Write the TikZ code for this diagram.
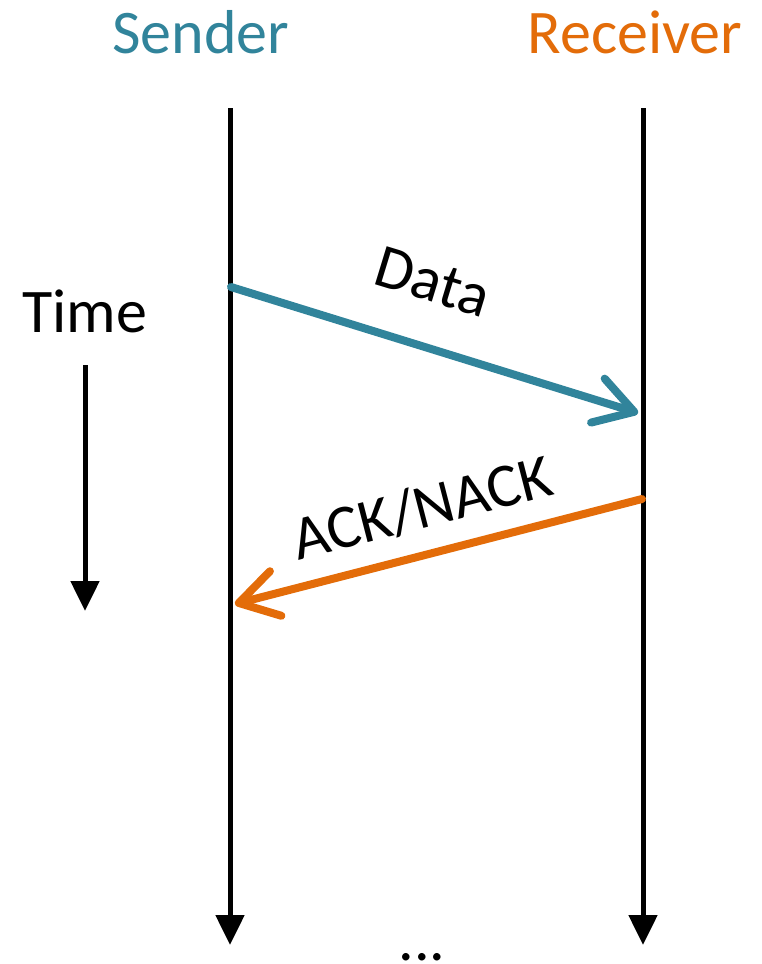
\documentclass[tikz,border=0pt]{standalone}
\usepackage{fontspec}
\setmainfont{Carlito}
\usetikzlibrary{arrows.meta}

\definecolor{sendcol}{HTML}{31849B}
\definecolor{recvcol}{HTML}{E36C09}

\tikzset{
  lifeline/.style={line width=5pt, -{Triangle[length=30pt,width=28pt]}},
  msg/.style={line width=8pt, line cap=round, line join=round,
    -{Straight Barb[length=38pt,width=46pt,line cap=round,line join=round]}},
  lbl/.style={font=\fontsize{62}{70}\selectfont, inner sep=0pt}
}

\begin{document}
\begin{tikzpicture}[x=1pt,y=-1pt]

  \useasboundingbox (0,0) rectangle (762,964);

  % participants
  \node[lbl, text=sendcol, anchor=base] (sender) at (201,53) {Sender};
  \node[lbl, text=recvcol, anchor=base] (receiver) at (635,53) {Receiver};

  \coordinate (s top) at (230,108);
  \coordinate (s end) at (230,945);
  \coordinate (r top) at (643,108);
  \coordinate (r end) at (643,945);

  \draw[lifeline] (s top) -- (s end);
  \draw[lifeline] (r top) -- (r end);

  % time axis
  \node[lbl, anchor=base] (time) at (85,332) {Time};
  \coordinate (t top) at (85,365);
  \coordinate (t end) at (85,611);
  \draw[lifeline] (t top) -- (t end);

  % messages
  \coordinate (data out) at (231,287);
  \coordinate (data in) at (638,413);
  \draw[msg, sendcol] (data out) -- (data in);
  \node[lbl, rotate=-17] (data) at (433,282) {Data};

  \coordinate (ack out) at (642,499);
  \coordinate (ack in) at (235,604);
  \draw[msg, recvcol] (ack out) -- (ack in);
  \node[lbl, rotate=14.5] (ack) at (422,508) {ACK/NACK};

  \node[lbl, anchor=base, text depth=0pt] (more) at (422,960) {...};

\end{tikzpicture}
\end{document}
